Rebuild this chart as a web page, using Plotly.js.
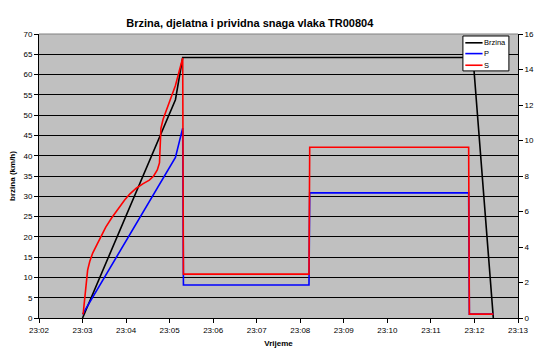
<!DOCTYPE html>
<html>
<head>
<meta charset="utf-8">
<script src="https://cdn.plot.ly/plotly-3.0.1.min.js"></script>
<style>
  html, body { margin: 0; padding: 0; background: #fff; }
  #chart { width: 535px; height: 351px; }
</style>
</head>
<body>
<div id="chart"></div>
<script>
// Train TR00804: speed (km/h, left axis) and active / apparent power (right axis)
const day = '2000-01-01 ';

const brzinaTime = ['23:03:00', '23:05:08', '23:05:18', '23:11:58', '23:12:26'];
const brzinaVal  = [0, 53.8, 64.2, 64.2, 0];

const pTime = ['23:03:00', '23:05:08', '23:05:18', '23:05:19', '23:08:12', '23:08:13',
               '23:11:52', '23:11:53', '23:12:26'];
const pVal  = [0.2, 9.05, 10.7, 1.86, 1.86, 7.05, 7.05, 0.22, 0.22];

const sTime = ['23:03:00', '23:03:01', '23:03:02', '23:03:04', '23:03:05', '23:03:07',
               '23:03:10', '23:03:14', '23:03:20', '23:03:26', '23:03:32', '23:03:40',
               '23:03:49', '23:03:58', '23:04:05', '23:04:14', '23:04:23', '23:04:32',
               '23:04:38', '23:04:43', '23:04:46', '23:04:48', '23:04:51', '23:05:04',
               '23:05:08', '23:05:18', '23:05:19', '23:08:12', '23:08:13', '23:11:52',
               '23:11:53', '23:12:26'];
const sVal  = [0.22, 0.26, 0.7, 1.39, 2.0, 2.70,
               3.2, 3.66, 4.15, 4.60, 5.12, 5.63,
               6.15, 6.65, 6.98, 7.31, 7.56, 7.77,
               8.0, 8.34, 8.74, 10.69, 11.2, 12.66,
               13.1, 14.65, 2.47, 2.47, 9.62, 9.62,
               0.22, 0.22];

const xTickRange = ['23:02:00', '23:13:00'];

const toDate = arr => arr.map(t => day + t);
const fontFamily = 'Liberation Sans, Arial, sans-serif';
const baseFont = { family: fontFamily, size: 8, color: '#000' };
const boldFont = { family: fontFamily, size: 8, weight: 'bold', color: '#000' };

const traces = [
  { x: toDate(brzinaTime), y: brzinaVal, name: 'Brzina', type: 'scatter', mode: 'lines',
    line: { color: '#000000', width: 1.6 }, yaxis: 'y' },
  { x: toDate(pTime), y: pVal, name: 'P', type: 'scatter', mode: 'lines',
    line: { color: '#0000FF', width: 1.6 }, yaxis: 'y2' },
  { x: toDate(sTime), y: sVal, name: 'S', type: 'scatter', mode: 'lines',
    line: { color: '#FF0000', width: 1.6 }, yaxis: 'y2' }
];

// Compact boxed legend in the top-right corner of the plot area
const legBox = { x0: 0.885, x1: 0.981, y0: 0.870, y1: 0.993 };
const legRows = [0.969, 0.931, 0.890];
const legShapes = [
  { type: 'rect', xref: 'paper', yref: 'paper', x0: legBox.x0, x1: legBox.x1, y0: legBox.y0, y1: legBox.y1,
    fillcolor: '#ffffff', line: { color: '#000000', width: 1 }, layer: 'above' }
];
const legNotes = [];
traces.forEach((tr, i) => {
  legShapes.push({ type: 'line', xref: 'paper', yref: 'paper', x0: 0.890, x1: 0.926,
    y0: legRows[i], y1: legRows[i], line: { color: tr.line.color, width: 1.6 }, layer: 'above' });
  legNotes.push({ xref: 'paper', yref: 'paper', x: 0.926, y: legRows[i], xanchor: 'left', yanchor: 'middle',
    text: tr.name, showarrow: false, borderpad: 0,
    font: { family: fontFamily, size: 7.5, color: '#000' } });
});

const layout = {
  width: 535, height: 351,
  margin: { l: 39, r: 17, t: 34, b: 33 },
  paper_bgcolor: '#ffffff',
  plot_bgcolor: '#C0C0C0',
  font: baseFont,
  showlegend: false,
  title: {
    text: 'Brzina, djelatna i prividna snaga vlaka TR00804',
    font: { family: fontFamily, size: 11, weight: 'bold', color: '#000' },
    xref: 'container', x: 0.467, xanchor: 'center',
    yref: 'container', y: 0.935, yanchor: 'middle'
  },
  xaxis: {
    type: 'date',
    range: toDate(xTickRange),
    dtick: 60000,
    tickformat: '%H:%M',
    showgrid: false,
    zeroline: false,
    showline: true, linecolor: '#000', linewidth: 1,
    ticks: 'outside', ticklen: 4, tickcolor: '#000',
    tickfont: baseFont,
    title: { text: 'Vrijeme', font: boldFont, standoff: 6 }
  },
  yaxis: {
    range: [0, 70], dtick: 5,
    showgrid: true, gridcolor: '#000000', gridwidth: 1,
    zeroline: false,
    showline: true, linecolor: '#000', linewidth: 1,
    ticks: 'outside', ticklen: 4, tickcolor: '#000',
    tickfont: baseFont,
    title: { text: 'brzina (km/h)', font: boldFont, standoff: 6 }
  },
  yaxis2: {
    range: [0, 16], dtick: 2,
    overlaying: 'y', side: 'right',
    showgrid: false, zeroline: false,
    showline: true, linecolor: '#000', linewidth: 1,
    ticks: 'outside', ticklen: 4, tickcolor: '#000',
    tickfont: baseFont
  },
  shapes: [
    { type: 'line', xref: 'paper', yref: 'paper', x0: 0, x1: 1, y0: 1, y1: 1,
      line: { color: '#808080', width: 1 } }
  ].concat(legShapes),
  annotations: legNotes
};

Plotly.newPlot('chart', traces, layout, { displayModeBar: false, staticPlot: true });
</script>
</body>
</html>
